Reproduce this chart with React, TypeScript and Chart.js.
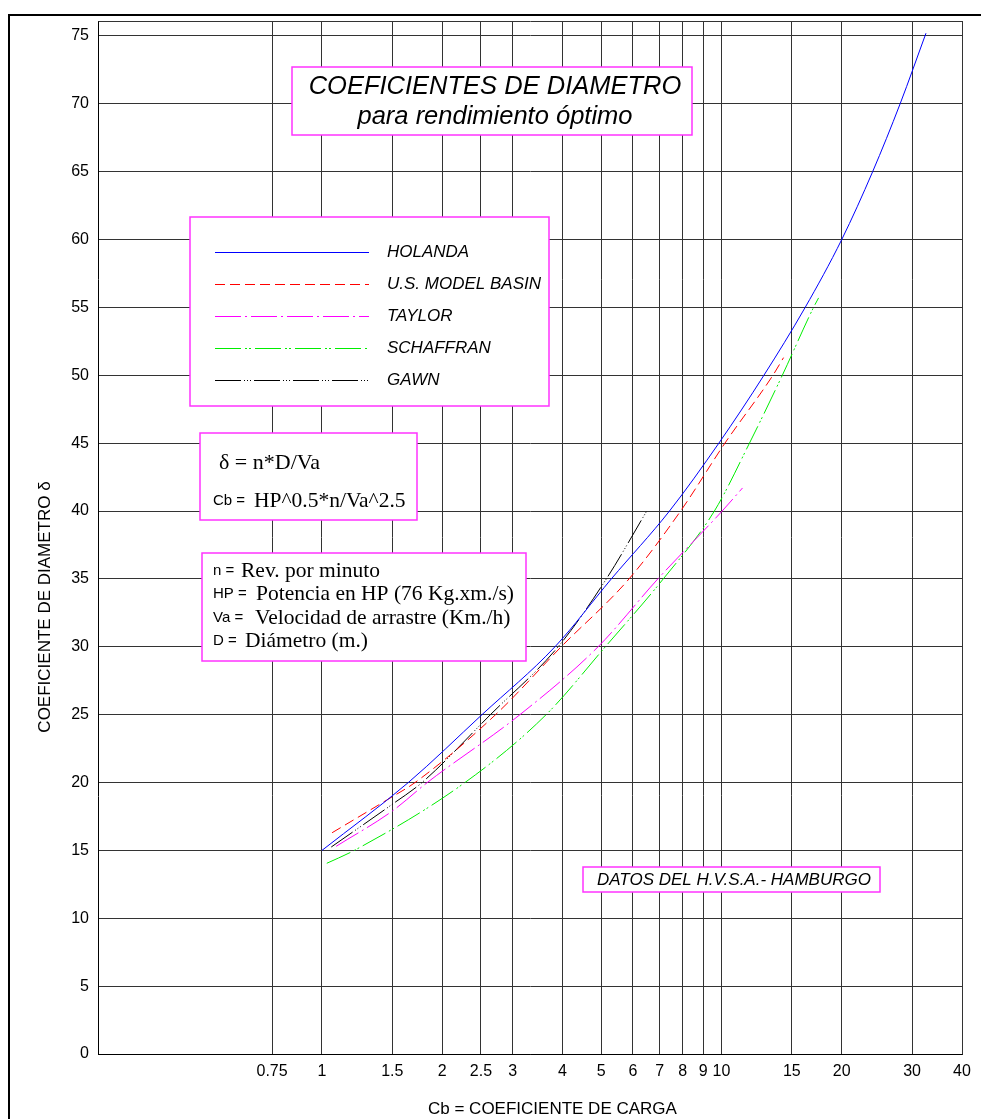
import React, { useEffect, useRef } from "react";
import { Chart, registerables } from "chart.js";

Chart.register(...registerables);

// ---------- data ----------
const xTickValues = [0.75, 1, 1.5, 2, 2.5, 3, 4, 5, 6, 7, 8, 9, 10, 15, 20, 30, 40];
const yTickValues = [0, 5, 10, 15, 20, 25, 30, 35, 40, 45, 50, 55, 60, 65, 70, 75];

const seriesNames = ["HOLANDA", "U.S. MODEL BASIN", "TAYLOR", "SCHAFFRAN", "GAWN"];

const holandaCb = [1, 1.645, 2.515, 3.83, 5.3, 7.41, 9.85, 12.77, 16.2, 20, 23.9, 28, 32.5];
const holandaDelta = [15, 20, 25, 30, 35, 40, 45, 50, 55, 60, 65, 70, 75.2];

const usmbCb = [1.06, 1.46, 1.71, 2.72, 3.97, 5.87, 7.9, 10.2, 13.45, 14.3];
const usmbDelta = [16.3, 18.75, 20, 25, 30, 35, 40, 45, 50, 51.3];

const taylorCb = [1.085, 1.5, 1.835, 3.13, 4.91, 6.93, 10.04, 11.29];
const taylorDelta = [15.3, 17.9, 20, 25, 30, 35, 40, 41.7];

const schaffranCb = [1.028, 1.205, 2.28, 3.64, 5.12, 7.15, 9.6, 11.75, 14.2, 17.0, 17.5];
const schaffranDelta = [14.05, 15, 20, 25, 30, 35, 40, 45, 50, 55, 55.7];

const gawnCb = [1.055, 1.5, 1.78, 2.64, 3.9, 5.15, 6.53];
const gawnDelta = [15.25, 18.4, 20, 25, 30, 35, 40.1];

const seriesCb = [holandaCb, usmbCb, taylorCb, schaffranCb, gawnCb];
const seriesDelta = [holandaDelta, usmbDelta, taylorDelta, schaffranDelta, gawnDelta];
const seriesColors = ["#0000ff", "#ff0000", "#ff00ff", "#00ee00", "#000000"];
const seriesDash = [[], [10, 5], [26, 4, 2, 4], [26, 4, 2, 2, 2, 4], [26, 3, 1, 2, 1, 2, 1, 3]];

const SANS = '"Liberation Sans", Arial, sans-serif';
const SERIF = '"Liberation Serif", "Times New Roman", serif';
const MAGENTA = "#ff33ff";

function box(ctx: CanvasRenderingContext2D, x1: number, y1: number, x2: number, y2: number) {
  ctx.save();
  ctx.fillStyle = "#ffffff";
  ctx.fillRect(x1, y1, x2 - x1, y2 - y1);
  ctx.strokeStyle = MAGENTA;
  ctx.lineWidth = 1.5;
  ctx.strokeRect(x1, y1, x2 - x1, y2 - y1);
  ctx.restore();
}

function text(ctx: CanvasRenderingContext2D, s: string, x: number, y: number, font: string, align: CanvasTextAlign = "left") {
  ctx.font = font;
  ctx.textAlign = align;
  ctx.textBaseline = "middle";
  ctx.fillStyle = "#000";
  ctx.fillText(s, x, y);
}

const overlayPlugin = {
  id: "overlay",
  beforeDatasetsDraw(chart: any) {
    const ctx: CanvasRenderingContext2D = chart.ctx;
    const a = chart.chartArea;
    ctx.save();
    // outer frame
    ctx.fillStyle = "#000";
    ctx.fillRect(8, 14, 973, 2);
    ctx.fillRect(8, 14, 2, 1105);
    // plot frame top / right
    ctx.strokeStyle = "#333";
    ctx.lineWidth = 1;
    ctx.beginPath();
    ctx.moveTo(Math.round(a.left) + 0.5, Math.round(a.top) + 0.5);
    ctx.lineTo(Math.round(a.right) + 0.5, Math.round(a.top) + 0.5);
    ctx.lineTo(Math.round(a.right) + 0.5, Math.round(a.bottom) + 0.5);
    ctx.stroke();

    // title box
    box(ctx, 292, 67, 692, 135);
    text(ctx, "COEFICIENTES DE DIAMETRO", 495, 87, `italic 25.5px ${SANS}`, "center");
    text(ctx, "para rendimiento óptimo", 495, 117, `italic 25.5px ${SANS}`, "center");

    // legend box
    box(ctx, 190, 217, 549, 406);
    const ly = [252, 284, 316, 348, 380];
    chart.data.datasets.forEach((ds: any, i: number) => {
      ctx.save();
      ctx.strokeStyle = ds.borderColor;
      ctx.lineWidth = 1;
      ctx.setLineDash(ds.borderDash || []);
      ctx.beginPath();
      ctx.moveTo(215, ly[i] + 0.5);
      ctx.lineTo(369, ly[i] + 0.5);
      ctx.stroke();
      ctx.restore();
      text(ctx, ds.label, 387, ly[i], `italic 17px ${SANS}`);
    });

    // formula box
    box(ctx, 200, 433, 417, 520);
    text(ctx, "δ = n*D/Va", 219, 463, `22px ${SERIF}`);
    text(ctx, "Cb =", 213, 501, `15px ${SANS}`);
    text(ctx, "HP^0.5*n/Va^2.5", 254, 501, `21.5px ${SERIF}`);

    // definitions box
    box(ctx, 202, 553, 526, 661);
    const defs: [string, string, number, number][] = [
      ["n =", "Rev. por minuto", 241, 571],
      ["HP =", "Potencia en HP (76 Kg.xm./s)", 256, 594],
      ["Va =", "Velocidad de arrastre (Km./h)", 255, 618],
      ["D =", "Diámetro (m.)", 245, 641],
    ];
    defs.forEach(([p, s, sx, y]) => {
      text(ctx, p, 213, y, `15px ${SANS}`);
      text(ctx, s, sx, y, `21.5px ${SERIF}`);
    });

    // source box
    box(ctx, 583, 867, 880, 892);
    text(ctx, "DATOS DEL H.V.S.A.- HAMBURGO", 597, 880, `italic 17px ${SANS}`);

    // axis titles
    text(ctx, "Cb = COEFICIENTE DE CARGA", 428, 1109, `17px ${SANS}`, "left");
    ctx.save();
    ctx.translate(45, 607);
    ctx.rotate(-Math.PI / 2);
    text(ctx, "COEFICIENTE DE DIAMETRO δ", 0, 0, `17px ${SANS}`, "center");
    ctx.restore();
    ctx.restore();
  },
};

export default function App() {
  const ref = useRef<HTMLCanvasElement>(null);
  useEffect(() => {
    if (!ref.current) return;
    const datasets = seriesNames.map((name, i) => ({
      label: name,
      data: seriesCb[i].map((x, j) => ({ x, y: seriesDelta[i][j] })),
      borderColor: seriesColors[i],
      backgroundColor: seriesColors[i],
      borderDash: seriesDash[i],
      borderWidth: 1,
      pointRadius: 0,
      showLine: true,
      fill: false,
      cubicInterpolationMode: "monotone" as const,
    }));
    const chart = new Chart(ref.current, {
      type: "scatter",
      data: { datasets },
      options: {
        animation: false,
        responsive: false,
        maintainAspectRatio: false,
        layout: { padding: { left: 48, top: 21, right: 19, bottom: 35 } },
        plugins: { legend: { display: false }, tooltip: { enabled: false } },
        scales: {
          x: {
            type: "logarithmic",
            bounds: "data",
            min: 0.275,
            max: 40,
            afterBuildTicks: (s: any) => {
              s.ticks = xTickValues.map((v) => ({ value: v }));
            },
            afterFit: (s: any) => {
              s.height = 30;
              s.paddingLeft = 0;
              s.paddingRight = 0;
            },
            ticks: {
              autoSkip: false,
              maxRotation: 0,
              minRotation: 0,
              color: "#000",
              padding: 8,
              font: { family: SANS, size: 16 },
              callback: (v: any) => String(v),
            },
            grid: { color: "#333", lineWidth: 1, drawTicks: false },
            border: { color: "#000", width: 1 },
          },
          y: {
            type: "linear",
            bounds: "data",
            min: 0,
            max: 76.1,
            afterBuildTicks: (s: any) => {
              s.ticks = yTickValues.map((v) => ({ value: v }));
            },
            afterFit: (s: any) => {
              s.width = 50;
              s.paddingTop = 0;
              s.paddingBottom = 0;
            },
            ticks: {
              color: "#000",
              padding: 9,
              font: { family: SANS, size: 16 },
              callback: (v: any) => String(v),
            },
            grid: { color: "#333", lineWidth: 1, drawTicks: false },
            border: { color: "#000", width: 1 },
          },
        },
      } as any,
      plugins: [overlayPlugin],
    });
    return () => chart.destroy();
  }, []);
  return (
    <div style={{ position: "fixed", left: 0, top: 0, width: 981, height: 1119, background: "#fff" }}>
      <canvas ref={ref} width={981} height={1119} style={{ display: "block", width: 981, height: 1119 }} />
    </div>
  );
}
